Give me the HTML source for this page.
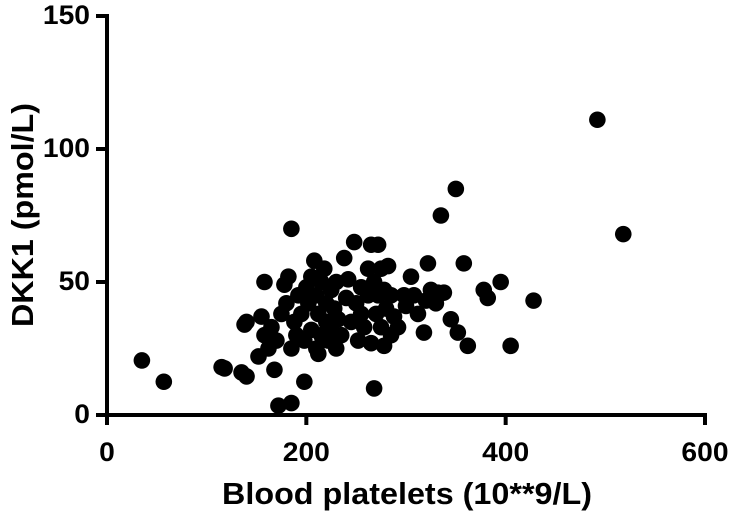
<!DOCTYPE html>
<html><head><meta charset="utf-8"><style>
html,body{margin:0;padding:0;background:#fff;}
svg text{font-family:"Liberation Sans",Arial,sans-serif;font-weight:bold;fill:#000;}
</style></head><body>
<svg id="chart" width="734" height="513" viewBox="0 0 734 513" xmlns="http://www.w3.org/2000/svg">
<g id="marks"></g>
<g id="axes"></g>
</svg>
<script>
const xTicks=[0,200,400,600];
const yTicks=[0,50,100,150];
const xVals=[35,57,115,118,135,140,138,140,152,155,158,158,162,165,168,170,172,175,178,180,182,185,185,185,188,190,192,195,198,198,200,202,205,205,208,210,210,212,212,215,215,218,220,220,222,225,225,228,230,230,232,235,238,240,242,245,248,250,252,255,255,258,262,262,265,265,268,268,270,272,272,275,275,278,278,280,282,285,285,288,292,298,300,305,308,312,318,320,322,325,330,332,335,338,345,350,352,358,362,378,382,395,405,428,492,518];
const yVals=[20.5,12.5,18,17.5,16,14.5,34,35,22,37,30,50,25,33,17,28,3.5,38,49,42,52,70,4.5,25,35,30,45,38,12.5,28,48,42,32,52,58,45,25,38,23,50,30,55,42,35,28,47,32,40,50,25,36,30,59,44,51,35,65,42,28,48,38,33,45,55,64,27,10,50,38,64,45,33,55,47,26,40,56,45,30,37,33,45,41,52,45,38,31,43,57,47,42,46,75,46,36,85,31,57,26,47,44,50,26,43,111,68];
const NS='http://www.w3.org/2000/svg';
const X0=107,X1=705,Y0=415,Y1=16;
function sx(v){return X0+(v-0)/(600-0)*(X1-X0);}
function sy(v){return Y0-(v-0)/(150-0)*(Y0-Y1);}
const marks=document.getElementById('marks');
const axes=document.getElementById('axes');
function mk(tag,attrs,parent){const e=document.createElementNS(NS,tag);for(const k in attrs)e.setAttribute(k,attrs[k]);parent.appendChild(e);return e;}
for(let i=0;i<xVals.length;i++){
  const c=mk('circle',{cx:sx(xVals[i]),cy:sy(yVals[i]),r:8.3,fill:'#000'},marks);
  
  
}
const xa=mk('line',{x1:X0-2,y1:Y0,x2:X1+2,y2:Y0,stroke:'#000','stroke-width':4},axes);


const ya=mk('line',{x1:X0,y1:Y0+2,x2:X0,y2:Y1-2,stroke:'#000','stroke-width':4},axes);


xTicks.forEach(t=>{
  const l=mk('line',{x1:sx(t),y1:Y0,x2:sx(t),y2:Y0+10,stroke:'#000','stroke-width':4},axes);
  
  
  const s=String(t);
  const tx=mk('text',{x:sx(t),y:461,'text-anchor':'middle','font-size':27,textLength:s.length*15.7,lengthAdjust:'spacingAndGlyphs'},axes);
  tx.textContent=s;
  
  
});
yTicks.forEach(t=>{
  const l=mk('line',{x1:X0-11,y1:sy(t),x2:X0,y2:sy(t),stroke:'#000','stroke-width':4},axes);
  
  
  const s=String(t);
  const tx=mk('text',{x:X0-17,y:sy(t)+8,'text-anchor':'end','font-size':27,textLength:s.length*15.7,lengthAdjust:'spacingAndGlyphs'},axes);
  tx.textContent=s;
  
  
});
const xt=mk('text',{x:407,y:504,'text-anchor':'middle','font-size':31,textLength:370,lengthAdjust:'spacingAndGlyphs'},axes);
xt.textContent='Blood platelets (10**9/L)';


const yt=mk('text',{x:0,y:0,'text-anchor':'middle','font-size':31,textLength:224,lengthAdjust:'spacingAndGlyphs',transform:'translate(33,215) rotate(-90)'},axes);
yt.textContent='DKK1 (pmol/L)';


</script>
</body></html>
